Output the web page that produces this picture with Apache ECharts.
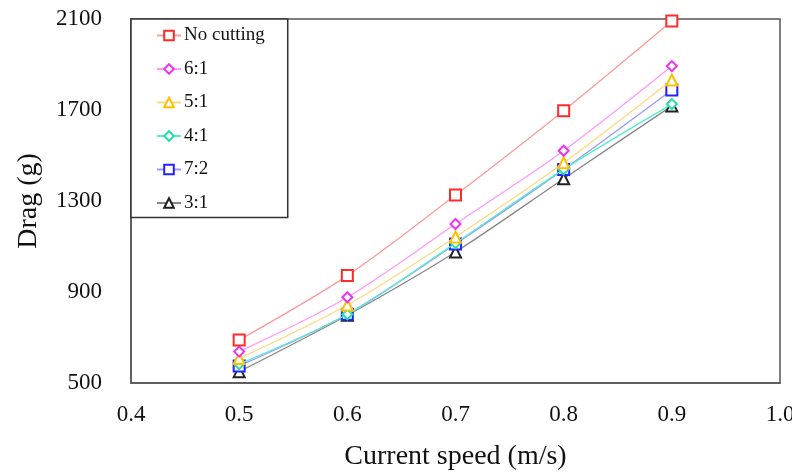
<!DOCTYPE html>
<html>
<head>
<meta charset="utf-8">
<script src="https://cdn.jsdelivr.net/npm/echarts@6/dist/echarts.min.js"></script>
<style>
  html, body { margin: 0; padding: 0; background: #fff; }
  #chart { width: 792px; height: 474px; }
</style>
</head>
<body>
<div id="chart"></div>
<script>
  // current speed (m/s)
  var speeds = [0.5, 0.6, 0.7, 0.8, 0.9];
  var names = ['No cutting', '6:1', '5:1', '4:1', '7:2', '3:1'];
  // drag (g)
  var noCutting = [689, 972, 1326, 1697, 2091];
  var r61 = [638, 877, 1199, 1521, 1893];
  var r51 = [608, 843, 1142, 1468, 1832];
  var r41 = [583, 802, 1115, 1439, 1726];
  var r72 = [575, 802, 1111, 1439, 1788];
  var r31 = [550, 798, 1076, 1398, 1718];

  var values = [noCutting, r61, r51, r41, r72, r31];
  var markColors = ['#ff2a2a', '#ee33ee', '#ffc000', '#22ddaa', '#2222ff', '#222222'];
  var lineColors = ['#ff9a9a', '#ff99ff', '#ffd980', '#55eecc', '#9999ff', '#888888'];
  var symbols = ['emptyRect', 'emptyDiamond', 'emptyTriangle', 'emptyDiamond', 'emptyRect', 'emptyTriangle'];
  var sizes = [11, 10, 11, 10, 11, 11];

  var font = '"Liberation Serif", "Times New Roman", serif';

  var series = names.map(function (n, i) {
    return {
      name: n,
      type: 'line',
      smooth: 0.3,
      data: speeds.map(function (s, j) { return [s, values[i][j]]; }),
      symbol: symbols[i],
      symbolSize: sizes[i],
      itemStyle: { color: markColors[i], borderWidth: 1.6 },
      lineStyle: { color: lineColors[i], width: 1.3 },
      z: 10 - i
    };
  });

  var chart = echarts.init(document.getElementById('chart'), null, { renderer: 'canvas' });
  chart.setOption({
    animation: false,
    backgroundColor: '#fff',
    grid: {
      left: 131, right: 12, top: 19, bottom: 91,
      outerBoundsMode: 'none',
      containLabel: false,
      show: true, borderColor: '#555', borderWidth: 1.5
    },
    legend: {
      orient: 'vertical',
      left: 131, top: 19,
      padding: [7, 23, 5, 25],
      itemWidth: 24, itemHeight: 12, itemGap: 14.5,
      backgroundColor: '#fff',
      borderColor: '#333', borderWidth: 1.5,
      textStyle: { fontFamily: font, fontSize: 19, lineHeight: 19, color: '#111', padding: [0, 0, 0, -2] },
      data: names
    },
    xAxis: {
      type: 'value',
      min: 0.4, max: 1.0, interval: 0.1,
      name: 'Current speed (m/s)',
      nameLocation: 'middle', nameGap: 60,
      nameTextStyle: { fontFamily: font, fontSize: 28, color: '#111' },
      axisLine: { show: true, lineStyle: { color: '#555', width: 1.5 } },
      axisTick: { show: false },
      splitLine: { show: false },
      axisLabel: {
        margin: 20, fontFamily: font, fontSize: 23, color: '#111',
        formatter: function (v) { return v.toFixed(1); }
      }
    },
    yAxis: {
      type: 'value',
      min: 500, max: 2100, interval: 400,
      name: 'Drag (g)',
      nameLocation: 'middle', nameGap: 88,
      nameTextStyle: { fontFamily: font, fontSize: 28, color: '#111' },
      axisLine: { show: true, lineStyle: { color: '#555', width: 1.5 } },
      axisTick: { show: false },
      splitLine: { show: false },
      axisLabel: {
        margin: 29, fontFamily: font, fontSize: 23, color: '#111',
        formatter: function (v) { return String(v); }
      }
    },
    series: series
  });
</script>
</body>
</html>
